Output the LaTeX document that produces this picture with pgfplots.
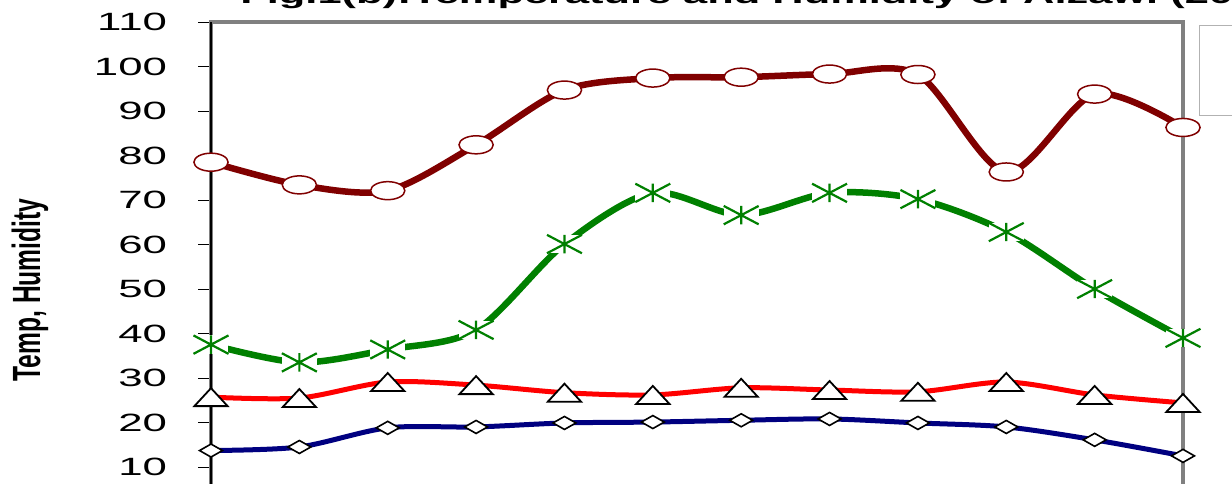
\documentclass[border=0pt]{standalone}
\usepackage{fontspec}
\setmainfont{Liberation Sans}
\newfontfamily\widefont{Liberation Sans}[FakeStretch=1.75]
\usepackage{graphicx}
\usepackage{pgfplots}
\usepackage{pgfplotstable}
\pgfplotsset{compat=1.18}
\definecolor{dred}{HTML}{800000}
\definecolor{dgreen}{HTML}{008000}
\definecolor{navyb}{HTML}{000080}
\definecolor{brred}{HTML}{FF0000}

\pgfdeclareplotmark{boxast}{%
  \pgfpathrectangle{\pgfqpoint{-\pgfplotmarksize}{-\pgfplotmarksize}}{\pgfqpoint{2\pgfplotmarksize}{2\pgfplotmarksize}}%
  \pgfusepathqfill
  \pgfpathmoveto{\pgfqpoint{0pt}{\pgfplotmarksize}}%
  \pgfpathlineto{\pgfqpoint{0pt}{-\pgfplotmarksize}}%
  \pgfpathmoveto{\pgfqpoint{-\pgfplotmarksize}{-\pgfplotmarksize}}%
  \pgfpathlineto{\pgfqpoint{\pgfplotmarksize}{\pgfplotmarksize}}%
  \pgfpathmoveto{\pgfqpoint{-\pgfplotmarksize}{\pgfplotmarksize}}%
  \pgfpathlineto{\pgfqpoint{\pgfplotmarksize}{-\pgfplotmarksize}}%
  \pgfusepathqstroke
}

\pgfplotstableread{
x rhmax rhmin tmax tmin
0 78.5 37.5 25.7 13.7
1 73.4 33.5 25.5 14.5
2 72.1 36.4 29.1 18.8
3 82.4 40.8 28.4 19.0
4 94.7 60.1 26.7 19.9
5 97.4 71.6 26.2 20.1
6 97.6 66.6 27.8 20.5
7 98.3 71.6 27.3 20.8
8 98.2 70.2 26.9 19.9
9 76.3 62.8 29.1 19.0
10 93.8 50.0 26.2 16.1
11 86.3 39.0 24.4 12.5
}\datatable

\begin{document}
\begin{tikzpicture}
\begin{axis}[
  scale only axis, width=486pt, height=244.75pt,
  xmin=0, xmax=11, ymin=0, ymax=110,
  xtick=\empty, ytick={10,20,...,110},
  ytick pos=left, tick align=outside, major tick length=6.5pt,
  every tick/.style={black, line width=0.5pt},
  axis line style={draw=gray, line width=1.75pt},
  clip=false,
  /pgf/number format/assume math mode=true,
  yticklabel style={font=\widefont\fontsize{12.5}{14}\selectfont, xshift=-12pt},
  ylabel={\scalebox{1}[1.6]{\bfseries Temp, Humidity}},
  ylabel style={at={(axis description cs:-0.1862,0.4527)}, anchor=center, font=\fontsize{12.3}{14}\selectfont},
  title={Fig.1(b):Temperature and Humidity of Aizawl (2010)},
  title style={at={(axis description cs:0.0298,1.0265)}, anchor=base west, yshift=-3pt, font=\widefont\bfseries\fontsize{12.4}{14}\selectfont, inner sep=0pt},
]
\addplot[dred, line width=3.25pt, smooth, tension=0.5,
  mark=*, mark size=4.5pt, mark options={solid, xscale=1.9, fill=white, draw=dred, line width=0.75pt}]
  table[x=x, y=rhmax] {\datatable};
\addplot[dgreen, line width=3.25pt, smooth, tension=0.5,
  mark=boxast, mark size=4.6pt, mark options={solid, xscale=1.9, fill=white, draw=dgreen, line width=1.1pt}]
  table[x=x, y=rhmin] {\datatable};
\addplot[brred, line width=2.5pt, smooth, tension=0.5,
  mark=triangle*, mark size=6pt, mark options={solid, xscale=1.6, yshift=-1.5pt, fill=white, draw=black, line width=0.9pt}]
  table[x=x, y=tmax] {\datatable};
\addplot[navyb, line width=2.5pt, smooth, tension=0.5,
  mark=diamond*, mark size=3.25pt, mark options={solid, xscale=2.35, fill=white, draw=black, line width=0.8pt}]
  table[x=x, y=tmin] {\datatable};
\draw[black, line width=0.75pt] (rel axis cs:0,0) -- (rel axis cs:0,1);
\draw[gray!60, line width=0.5pt] (rel axis cs:1.0165,0.8082) rectangle (rel axis cs:1.09,0.9936);
\coordinate (bbsw) at (rel axis cs:-0.21708,0.05822);
\coordinate (bbne) at (rel axis cs:1.05041,1.04495);
\end{axis}
\pgfresetboundingbox
\useasboundingbox (bbsw) rectangle (bbne);
\end{tikzpicture}
\end{document}
